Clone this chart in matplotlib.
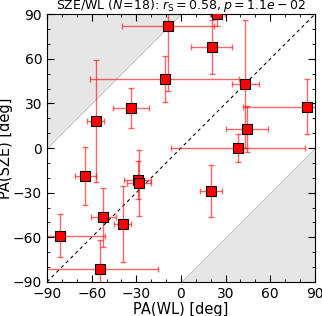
import matplotlib
matplotlib.use("Agg")
from matplotlib import pyplot as plt
from matplotlib.ticker import MultipleLocator

# PA(WL), PA(SZE) en grados, con sus errores
pa_wl = [24.4, -8.5, 20.6, -11.0, 43.2, 44.3, 84.6, -33.4, -57.1, 38.5,
         -64.3, -29.1, -28.4, 20.3, -52.2, -39.0, -81.1, -54.4]
pa_sze = [90.0, 82.1, 68.0, 46.2, 43.1, 12.6, 27.8, 26.7, 18.4, 0.2,
          -18.8, -21.5, -23.4, -28.7, -46.6, -51.2, -59.0, -81.6]
err_wl = [5, 31, 14, 50, 9, 14, 43, 12, 5.7, 45,
          7, 9, 8, 7.6, 8.3, 5.7, 30, 38.7]
err_sze = [8, 43.5, 18, 15.5, 43, 15.5, 18.5, 13.5, 41, 9.5,
           19.4, 12.7, 22, 17.4, 20, 25.5, 14.6, 20]

fig = plt.figure(figsize=(3.22, 3.16), dpi=100)
ax = fig.add_axes([0.146, 0.108, 0.832, 0.847])

ax.fill([-90, -90, 0], [0, 90, 90], color="0.9", ec="0.75", lw=0.6, zorder=0)
ax.fill([0, 90, 90], [-90, -90, 0], color="0.9", ec="0.75", lw=0.6, zorder=0)
ax.plot([-90, 90], [-90, 90], "k--", lw=0.8, dashes=(3, 3), zorder=1)

ax.errorbar(pa_wl, pa_sze, xerr=err_wl, yerr=err_sze, fmt="none",
            ecolor="red", alpha=0.6, elinewidth=1.0, capsize=2, capthick=1.0,
            zorder=2)
ax.plot(pa_wl, pa_sze, "s", ms=7, mfc="red", mec="k", mew=0.8, zorder=3)

ax.set_xlim(-90, 90)
ax.set_ylim(-90, 90)
ax.xaxis.set_major_locator(MultipleLocator(30))
ax.yaxis.set_major_locator(MultipleLocator(30))
ax.xaxis.set_minor_locator(MultipleLocator(10))
ax.yaxis.set_minor_locator(MultipleLocator(10))
ax.tick_params(which="both", direction="in", top=True, right=True, labelsize=10)
ax.tick_params(which="major", length=5)
ax.tick_params(which="minor", length=2.5)

ax.set_xlabel("PA(WL) [deg]", fontsize=10.5, labelpad=1)
ax.set_ylabel("PA(SZE) [deg]", fontsize=10.5, labelpad=0)
ax.set_title(r"SZE/WL ($N\!=\!18$): $r_{\rm S}=0.58, p=1.1e-02$",
             fontsize=9, pad=0.5)

plt.savefig("out.png", dpi=100)
